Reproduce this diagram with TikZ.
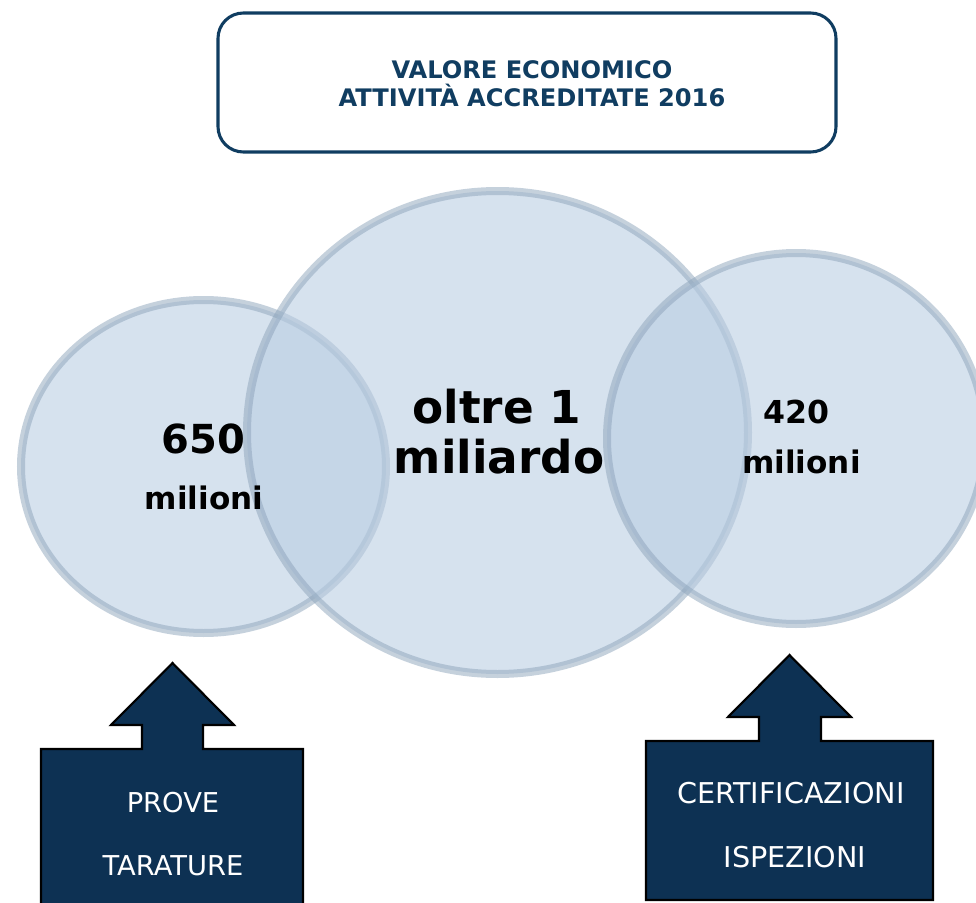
\documentclass[tikz,border=0pt]{standalone}
\usepackage{fontspec}
\setmainfont{DejaVu Sans}
\definecolor{navy}{RGB}{13,49,83}
\definecolor{titleblue}{RGB}{16,61,97}
\definecolor{circfill}{RGB}{185,205,226}
\definecolor{circline}{RGB}{140,163,186}
\begin{document}
\begin{tikzpicture}[x=0.75pt,y=-0.75pt,
  bubble/.style={line width=6pt, draw=circline, draw opacity=0.5, fill=circfill, fill opacity=0.585},
  titlebox/.style={draw=titleblue, line width=2.3pt, rounded corners=19pt, fill=white},
  titletext/.style={anchor=base, inner sep=0pt, text=titleblue, font=\bfseries\fontsize{18.1pt}{21pt}\selectfont},
  bignum/.style={anchor=base, inner sep=0pt, text=black, font=\bfseries\fontsize{#1}{#1}\selectfont},
  arrowbox/.style={fill=navy, draw=black, line width=1.6pt, line join=miter},
  boxtext/.style={anchor=base, inner sep=0pt, text=white, font=\fontsize{#1}{23pt}\selectfont}]
\useasboundingbox (0,0) rectangle (976,903);
% title
\draw[titlebox] (218,13) rectangle (836,152);
\node[titletext] (t1) at (532,78) {VALORE ECONOMICO};
\node[titletext] (t2) at (532,106) {ATTIVITÀ ACCREDITATE 2016};
% circles
\draw[bubble] (203.5,466.5) ellipse [x radius=182.5, y radius=166.5];
\draw[bubble] (497.5,432.5) ellipse [x radius=250.5, y radius=241.5];
\draw[bubble] (796,438.5) ellipse [x radius=189, y radius=185.5];
% numbers
\node[bignum=30pt] (n650) at (203.5,453) {650};
\node[bignum=23.3pt] (m650) at (204,509) {milioni};
\node[bignum=34pt] (oltre) at (497,423) {oltre 1};
\node[bignum=34pt] (miliardo) at (499,473) {miliardo};
\node[bignum=23.7pt] (n420) at (796,423) {420};
\node[bignum=23.3pt] (m420) at (801.5,473) {milioni};
% arrows
\draw[arrowbox] (41,749) -- (142,749) -- (142,725) -- (111,725) -- (172.5,663) -- (234,725) -- (203,725) -- (203,749) -- (303,749) -- (303,910) -- (41,910) -- cycle;
\draw[arrowbox] (646,741) -- (759,741) -- (759,717) -- (728,717) -- (789.5,655) -- (851,717) -- (821,717) -- (821,741) -- (933,741) -- (933,900) -- (646,900) -- cycle;
\node[boxtext=20.5pt] (prove) at (173,812) {PROVE};
\node[boxtext=20.5pt] (tarature) at (173,875) {TARATURE};
\node[boxtext=21.5pt] (cert) at (791,803) {CERTIFICAZIONI};
\node[boxtext=21.5pt] (isp) at (795,867) {ISPEZIONI};
\end{tikzpicture}
\end{document}
